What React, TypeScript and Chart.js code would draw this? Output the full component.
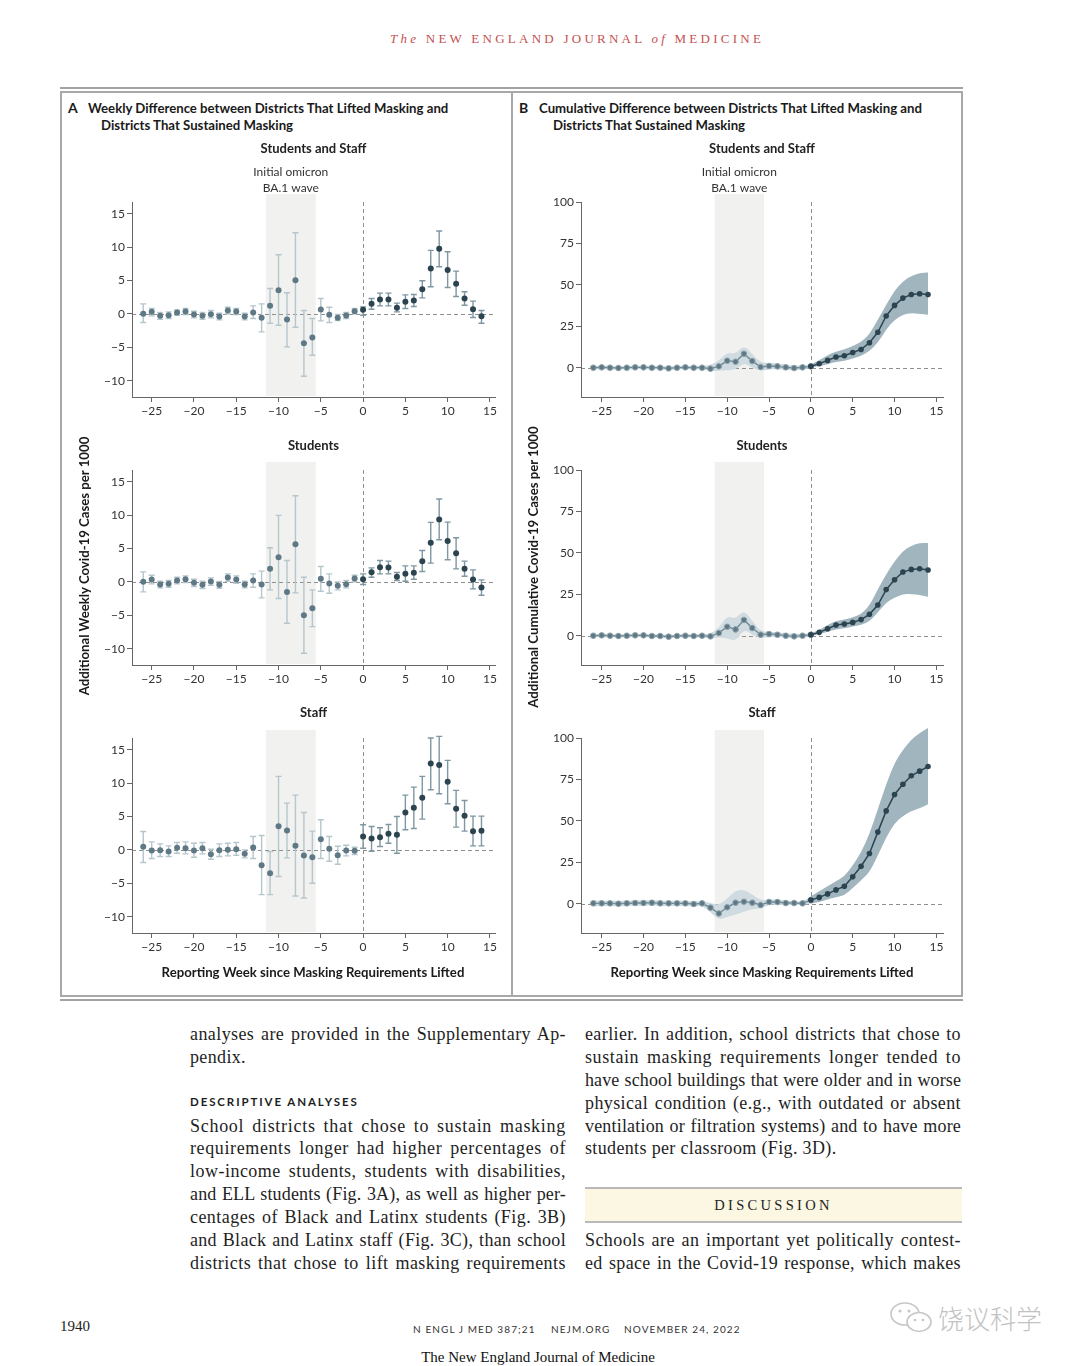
import React, { useEffect, useRef } from "react";
import { Chart, registerables } from "chart.js";

Chart.register(...registerables);

// ---------------- data ----------------
const WEEKS = [-26, -25, -24, -23, -22, -21, -20, -19, -18, -17, -16, -15, -14, -13, -12, -11, -10, -9, -8, -7, -6, -5, -4, -3, -2, -1, 0, 1, 2, 3, 4, 5, 6, 7, 8, 9, 10, 11, 12, 13, 14];
const X_TICKS = [-25, -20, -15, -10, -5, 0, 5, 10, 15];
const WEEKLY_TICKS = [-10, -5, 0, 5, 10, 15];
const CUMUL_TICKS = [0, 25, 50, 75, 100];
const OMICRON_WAVE = [-11.5, -5.6];

// Panel A: weekly difference (point estimate, upper CI, lower CI)
const weeklyAllValues = [0.0, 0.3, -0.3, -0.2, 0.2, 0.35, -0.1, -0.3, -0.05, -0.4, 0.5, 0.35, -0.4, 0.2, -0.6, 1.2, 3.55, -0.85, 5.05, -4.4, -3.55, 0.65, -0.15, -0.6, -0.25, 0.4, 0.6, 1.5, 2.15, 2.15, 0.9, 1.8, 2.0, 3.7, 6.8, 9.75, 6.55, 4.5, 2.3, 0.7, -0.35];
const weeklyAllHi = [1.5, 0.8, 0.2, 0.3, 0.6, 0.8, 0.4, 0.2, 0.5, 0.1, 1.0, 0.8, 0.1, 1.2, 1.5, 3.8, 8.85, 3.15, 12.15, 0.5, -0.7, 2.3, 1.0, -0.1, 0.2, 0.8, 1.05, 2.3, 3.1, 3.1, 1.6, 2.85, 2.9, 4.95, 9.5, 12.4, 9.3, 6.4, 3.3, 1.9, 0.5];
const weeklyAllLo = [-1.3, -0.3, -0.8, -0.7, -0.2, -0.1, -0.6, -0.8, -0.6, -0.9, 0.0, -0.1, -0.9, -0.7, -2.7, -1.4, -1.7, -4.95, -2.0, -9.35, -6.2, -1.05, -1.3, -1.0, -0.7, 0.0, -0.2, 0.7, 1.2, 1.2, 0.3, 0.8, 1.1, 2.4, 4.05, 7.05, 3.95, 2.6, 1.3, -0.55, -1.4];

const weeklyStudentValues = [0, 0.35, -0.4, -0.3, 0.2, 0.4, -0.15, -0.45, 0.05, -0.45, 0.65, 0.35, -0.4, 0.2, -0.4, 1.95, 3.7, -1.5, 5.65, -5.0, -3.95, 0.45, -0.25, -0.6, -0.35, 0.5, 0.4, 1.45, 2.2, 2.15, 0.75, 1.2, 1.35, 3.1, 5.85, 9.35, 6.1, 4.3, 1.95, 0.35, -0.85];
const weeklyStudentHi = [1.5, 1.0, 0.1, 0.2, 0.7, 0.9, 0.4, 0.1, 0.6, 0.05, 1.2, 0.9, 0.1, 1.2, 1.6, 5.1, 9.95, 3.2, 12.9, 0.7, -1.2, 2.3, 1.2, 0.0, 0.2, 1.0, 1.2, 2.1, 3.2, 3.1, 1.4, 2.4, 2.4, 4.7, 8.9, 12.4, 8.95, 6.6, 3.1, 1.8, 0.3];
const weeklyStudentLo = [-1.5, -0.3, -0.9, -0.8, -0.3, -0.1, -0.7, -1.0, -0.5, -0.95, 0.1, -0.2, -0.9, -0.8, -2.4, -1.2, -2.5, -6.2, -1.65, -10.7, -6.7, -1.4, -1.7, -1.2, -0.9, 0.0, -0.4, 0.7, 1.2, 1.2, 0.2, 0.1, 0.4, 1.55, 2.8, 6.3, 3.3, 1.95, 0.85, -1.05, -2.0];

const weeklyStaffValues = [0.45, -0.1, -0.05, -0.25, 0.3, 0.25, -0.1, 0.25, -0.65, -0.05, 0, 0.1, -0.6, 0.35, -2.3, -3.5, 3.55, 2.9, 0.6, -0.85, -1.1, 1.6, 0.15, -0.8, -0.1, -0.15, 2.0, 1.7, 1.9, 2.4, 2.25, 5.6, 6.3, 7.8, 12.95, 12.7, 10.2, 6.15, 5.1, 2.8, 2.85];
const weeklyStaffHi = [2.75, 1.2, 0.9, 0.6, 1.1, 1.2, 1.0, 1.1, 0.1, 0.9, 1.0, 1.1, 0.0, 2.0, 2.15, -0.25, 11.0, 7.0, 8.2, 5.6, 2.8, 4.5, 2.0, 0.55, 0.7, 0.4, 3.75, 3.5, 3.3, 3.8, 5.0, 8.2, 9.4, 11.0, 16.75, 17.0, 13.4, 8.9, 7.4, 5.05, 5.05];
const weeklyStaffLo = [-1.9, -1.3, -1.0, -1.0, -0.5, -0.6, -1.1, -0.6, -1.4, -1.0, -0.9, -0.8, -1.2, -1.3, -6.7, -6.7, -4.0, -1.2, -6.9, -7.2, -5.0, -1.3, -1.7, -2.15, -0.9, -0.7, 0.25, -0.2, 0.5, 1.0, -0.5, 3.0, 3.2, 4.6, 9.0, 8.4, 6.9, 3.4, 2.8, 0.6, 0.6];

// Panel B: cumulative difference (estimate, upper band, lower band)
const cumAllValues = [0, 0.2, 0, -0.2, 0, 0.2, 0.2, 0, 0, -0.4, 0, 0.2, 0, 0, -0.6, 0.8, 4.2, 3.6, 8.4, 4.0, 0.4, 1.0, 0.8, 0.2, -0.2, 0.2, 0.8, 2.4, 4.4, 6.4, 7.2, 9.2, 11.0, 15.0, 21.4, 31.2, 37.6, 42.0, 44.2, 44.6, 44.2];
const cumAllUpper = [1, 1.2, 1, 0.8, 1, 1.2, 1.2, 1, 1, 0.6, 1, 1.2, 1, 1.2, 1.5, 4, 9.5, 8, 13.5, 8, 3, 3, 2.5, 1.8, 1.2, 1.5, 1.8, 4.5, 7.5, 9.8, 11, 13, 15.5, 20, 29, 38, 46.5, 52, 55.5, 57, 57.5];
const cumAllLower = [-1, -0.8, -1, -1.2, -1, -0.8, -0.8, -1, -1, -1.4, -1, -0.8, -1, -1, -2, -2, -1.5, -1.2, 3, 0, -2, -1, -1, -1.2, -1.6, -1.2, 0, 1, 2, 3.5, 4, 5.5, 7, 10, 15, 23, 29, 32, 33, 32.5, 32];

const cumStudentValues = [0, 0.2, 0, -0.2, 0, 0.2, 0.2, -0.2, -0.2, -0.6, -0.2, 0, -0.2, 0, -0.4, 1.6, 5.4, 3.8, 9.5, 4.6, 0.6, 1.0, 0.6, 0, -0.4, 0, 0.6, 2.0, 4.2, 6.4, 7.0, 8.0, 9.7, 12.9, 18.5, 27.8, 33.8, 38.4, 40.0, 40.4, 39.6];
const cumStudentUpper = [1, 1.2, 1, 0.8, 1, 1.2, 1.2, 0.8, 0.8, 0.4, 0.8, 1, 0.8, 1, 1, 4.5, 12, 10, 15.5, 9, 2.5, 2.5, 2, 1.5, 1, 1.2, 1.5, 3.5, 6.5, 8.8, 9.8, 11, 13, 18, 28, 37, 45, 51, 54.5, 56, 56];
const cumStudentLower = [-1, -0.8, -1, -1.2, -1, -0.8, -0.8, -1.2, -1.2, -1.6, -1.2, -1, -1.2, -1, -1.6, -1, -1.5, -3.5, 4, 0.5, -1.5, -0.8, -0.8, -1.2, -1.6, -1.2, 0, 0.8, 2.3, 4, 4.5, 5.5, 6.5, 8.5, 14, 20, 23, 25, 25.2, 24.5, 23.5];

const cumStaffValues = [0.2, 0.2, 0.2, 0, 0.2, 0.4, 0.4, 0.6, 0.2, 0.2, 0.2, 0.2, -0.2, 0.2, -2.4, -5.9, -2.2, 0.6, 1.2, 0.6, -0.8, 1.0, 1.0, 0.4, 0.4, 0.2, 2.2, 3.8, 5.9, 8.3, 10.5, 16.2, 22.6, 30.3, 43.2, 56.0, 65.9, 72.1, 77.2, 80.0, 82.8];
const cumStaffUpper = [2, 1.8, 1.8, 1.6, 1.8, 2, 2, 2.2, 1.8, 1.8, 1.8, 1.8, 1.5, 1.5, 0.5, -1, 3, 8, 8.5, 5.5, 2, 2.5, 2.5, 1.8, 1.5, 1.2, 4.5, 7.5, 10.5, 13.5, 16.5, 23, 31, 42, 57, 72, 85, 93, 99, 103, 106];
const cumStaffLower = [-1.6, -1.4, -1.4, -1.6, -1.4, -1.2, -1.2, -1, -1.4, -1.4, -1.4, -1.4, -1.8, -1.2, -5, -10, -8, -6.5, -5, -3, -3.2, -0.5, -0.5, -1, -0.8, -0.8, 0, 1, 2.5, 4, 5, 9.5, 14, 19, 29, 40, 48.5, 53, 56, 57.5, 60];

// ---------------- styles ----------------
const SANS = 'Lato, "Open Sans", "Noto Sans", sans-serif';
const SERIF = '"Liberation Serif", "Times New Roman", serif';
const PRE_POINT = "#5e7985";
const POST_POINT = "#2c4450";
const PRE_BAR = "#b5c6cd";
const POST_BAR = "#7f97a2";
const PRE_BAND = "#cfdbe0";
const POST_BAND = "#a1b5be";
const PRE_LINE = "#6a8590";
const AXIS = "#666666";

const fmt = (v: number) => (v < 0 ? "\u2212" + Math.abs(v) : String(v));

type Spec = {
  kind: "weekly" | "cum";
  title: string;
  titleGap: number;
  wave: boolean;
  values: number[];
  hi: number[];
  lo: number[];
};

function smoothPath(ctx: CanvasRenderingContext2D, pts: number[][], move: boolean) {
  if (move) ctx.moveTo(pts[0][0], pts[0][1]);
  else ctx.lineTo(pts[0][0], pts[0][1]);
  for (let i = 1; i < pts.length - 1; i++) {
    const mx = (pts[i][0] + pts[i + 1][0]) / 2;
    const my = (pts[i][1] + pts[i + 1][1]) / 2;
    ctx.quadraticCurveTo(pts[i][0], pts[i][1], mx, my);
  }
  const l = pts[pts.length - 1];
  ctx.lineTo(l[0], l[1]);
}

function PanelChart({ spec, left, top, width, yWidth, padRight, xMin, xMax }: { spec: Spec; left: number; top: number; width: number; yWidth: number; padRight: number; xMin: number; xMax: number }) {
  const ref = useRef<HTMLCanvasElement>(null);
  const H = 70 + 195 + 28;
  useEffect(() => {
    const canvas = ref.current as HTMLCanvasElement;
    const weekly = spec.kind === "weekly";

    const decor = {
      id: "decor",
      beforeDraw(chart: any) {
        const { ctx, chartArea: a, scales } = chart;
        const xs = scales.x, ys = scales.y;
        ctx.save();
        const bx0 = xs.getPixelForValue(OMICRON_WAVE[0]);
        const bx1 = xs.getPixelForValue(OMICRON_WAVE[1]);
        ctx.fillStyle = "#f1f1ef";
        ctx.fillRect(bx0, a.top - 8, bx1 - bx0, a.bottom - a.top + 8 - 1);
        ctx.setLineDash([4, 3]);
        ctx.strokeStyle = "#8e8e8e";
        ctx.lineWidth = 1;
        const yz = Math.round(ys.getPixelForValue(0)) + 0.5;
        ctx.beginPath();
        ctx.moveTo(a.left, yz);
        ctx.lineTo(a.right, yz);
        ctx.stroke();
        const xz = Math.round(xs.getPixelForValue(0)) + 0.5;
        ctx.beginPath();
        ctx.moveTo(xz, a.top);
        ctx.lineTo(xz, a.bottom);
        ctx.stroke();
        ctx.restore();
      },
      beforeDatasetsDraw(chart: any) {
        const { ctx, scales } = chart;
        const xs = scales.x, ys = scales.y;
        ctx.save();
        if (weekly) {
          ctx.lineWidth = 1.4;
          WEEKS.forEach((w, i) => {
            const px = xs.getPixelForValue(w);
            const ph = ys.getPixelForValue(spec.hi[i]);
            const pl = ys.getPixelForValue(spec.lo[i]);
            ctx.strokeStyle = w >= 0 ? POST_BAR : PRE_BAR;
            ctx.beginPath();
            ctx.moveTo(px, ph);
            ctx.lineTo(px, pl);
            ctx.moveTo(px - 3, ph);
            ctx.lineTo(px + 3, ph);
            ctx.moveTo(px - 3, pl);
            ctx.lineTo(px + 3, pl);
            ctx.stroke();
          });
        } else {
          const band = (keep: (w: number) => boolean, color: string) => {
            const up: number[][] = [];
            const dn: number[][] = [];
            WEEKS.forEach((w, i) => {
              if (keep(w)) {
                const px = xs.getPixelForValue(w);
                up.push([px, ys.getPixelForValue(spec.hi[i])]);
                dn.push([px, ys.getPixelForValue(spec.lo[i])]);
              }
            });
            ctx.fillStyle = color;
            ctx.beginPath();
            smoothPath(ctx, up, true);
            smoothPath(ctx, dn.reverse(), false);
            ctx.closePath();
            ctx.fill();
          };
          band((w) => w <= 0, PRE_BAND);
          band((w) => w >= 0, POST_BAND);
        }
        ctx.restore();
      },
      afterDraw(chart: any) {
        const { ctx, chartArea: a, scales } = chart;
        const xs = scales.x;
        ctx.save();
        ctx.fillStyle = "#222";
        ctx.textAlign = "center";
        ctx.textBaseline = "middle";
        ctx.font = "bold 13px " + SANS;
        ctx.fillText(spec.title, (a.left + a.right) / 2, a.top - spec.titleGap);
        if (spec.wave) {
          const cx = (xs.getPixelForValue(OMICRON_WAVE[0]) + xs.getPixelForValue(OMICRON_WAVE[1])) / 2;
          ctx.font = "12px " + SANS;
          ctx.fillStyle = "#333";
          ctx.fillText("Initial omicron", cx, a.top - 30);
          ctx.fillText("BA.1 wave", cx, a.top - 14);
        }
        ctx.restore();
      },
    };

    const pre = WEEKS.map((w, i) => ({ x: w, y: spec.values[i] })).filter((p) => p.x <= 0);
    const post = WEEKS.map((w, i) => ({ x: w, y: spec.values[i] })).filter((p) => p.x >= 0);

    const datasets: any[] = weekly
      ? [
          {
            data: WEEKS.map((w, i) => ({ x: w, y: spec.values[i] })),
            showLine: false,
            pointRadius: 3,
            pointBorderWidth: 0,
            pointBackgroundColor: WEEKS.map((w) => (w >= 0 ? POST_POINT : PRE_POINT)),
            pointBorderColor: WEEKS.map((w) => (w >= 0 ? POST_POINT : PRE_POINT)),
          },
        ]
      : [
          {
            data: post,
            borderColor: POST_POINT,
            borderWidth: 1.5,
            pointRadius: 2.8,
            pointBorderWidth: 0,
            pointBackgroundColor: POST_POINT,
            tension: 0,
            fill: false,
          },
          {
            data: pre,
            borderColor: PRE_LINE,
            borderWidth: 1.3,
            pointRadius: 2.8,
            pointBorderWidth: 1,
            pointBorderColor: "#8fa4ad",
            pointBackgroundColor: PRE_POINT,
            tension: 0,
            fill: false,
          },
        ];

    const yTicks = weekly ? WEEKLY_TICKS : CUMUL_TICKS;
    const tickFont = { family: SANS, size: 12 };
    const chart = new Chart(canvas, {
      type: "line",
      data: { datasets },
      plugins: [decor],
      options: {
        animation: false,
        responsive: false,
        devicePixelRatio: 1,
        events: [],
        layout: { padding: { top: 70, right: padRight, left: 0, bottom: 0 } },
        plugins: { legend: { display: false }, tooltip: { enabled: false }, title: { display: false } },
        scales: {
          x: {
            type: "linear",
            bounds: "data",
            min: xMin,
            max: xMax,
            afterBuildTicks: (s: any) => {
              s.ticks = X_TICKS.map((v) => ({ value: v }));
            },
            afterFit: (s: any) => {
              s.height = 28;
            },
            grid: { drawOnChartArea: false, drawTicks: true, tickLength: 5, color: AXIS, lineWidth: 1 },
            border: { color: AXIS, width: 1 },
            ticks: { font: tickFont, color: "#333", padding: 2, maxRotation: 0, autoSkip: false, callback: (v: any) => fmt(Number(v)) },
          },
          y: {
            type: "linear",
            bounds: "data",
            min: weekly ? -12.45 : -17.7,
            max: weekly ? 16.75 : 100,
            afterBuildTicks: (s: any) => {
              s.ticks = yTicks.map((v) => ({ value: v }));
            },
            afterFit: (s: any) => {
              s.width = yWidth;
            },
            grid: { drawOnChartArea: false, drawTicks: true, tickLength: 5, color: AXIS, lineWidth: 1 },
            border: { color: AXIS, width: 1 },
            ticks: { font: tickFont, color: "#333", padding: 2, autoSkip: false, callback: (v: any) => fmt(Number(v)) },
          },
        },
      } as any,
    });
    return () => chart.destroy();
  }, []);
  return <canvas ref={ref} width={width} height={H} style={{ position: "absolute", left, top, width, height: H }} />;
}

// ---------------- page text ----------------
const LEFT_COL = [
  { y: 1034, t: "analyses are provided in the Supplementary Ap-", j: true },
  { y: 1057, t: "pendix.", j: false },
  { y: 1126, t: "School districts that chose to sustain masking", j: true },
  { y: 1148, t: "requirements longer had higher percentages of", j: true },
  { y: 1171, t: "low-income students, students with disabilities,", j: true },
  { y: 1194, t: "and ELL students (Fig. 3A), as well as higher per-", j: true },
  { y: 1217, t: "centages of Black and Latinx students (Fig. 3B)", j: true },
  { y: 1240, t: "and Black and Latinx staff (Fig. 3C), than school", j: true },
  { y: 1263, t: "districts that chose to lift masking requirements", j: true },
];
const RIGHT_COL = [
  { y: 1034, t: "earlier. In addition, school districts that chose to", j: true },
  { y: 1057, t: "sustain masking requirements longer tended to", j: true },
  { y: 1080, t: "have school buildings that were older and in worse", j: true },
  { y: 1103, t: "physical condition (e.g., with outdated or absent", j: true },
  { y: 1126, t: "ventilation or filtration systems) and to have more", j: true },
  { y: 1148, t: "students per classroom (Fig. 3D).", j: false },
  { y: 1240, t: "Schools are an important yet politically contest-", j: true },
  { y: 1263, t: "ed space in the Covid-19 response, which makes", j: true },
];

const BODY_SIZE = 18;
let measureCtx: CanvasRenderingContext2D | null = null;
function naturalWidth(t: string) {
  if (!measureCtx) measureCtx = document.createElement("canvas").getContext("2d");
  if (!measureCtx) return 0;
  measureCtx.font = BODY_SIZE + "px " + SERIF;
  return measureCtx.measureText(t).width;
}

function TextLine({ x, y, w, t, j }: { x: number; y: number; w: number; t: string; j: boolean }) {
  let ls = 0;
  const nat = naturalWidth(t);
  const box = w - 1;
  if (j && nat > 0) {
    const extra = box - nat - 2;
    ls = extra < 0 ? extra / t.length - 0.05 : (extra * 0.7) / t.length;
  } else if (!j) {
    ls = 0.35;
  }
  return (
    <div
      style={{
        position: "absolute",
        left: x,
        top: y - 12,
        width: box,
        height: 24,
        lineHeight: "24px",
        fontFamily: SERIF,
        fontSize: BODY_SIZE,
        letterSpacing: ls,
        color: "#1e1e1e",
        textAlign: j ? "justify" : "left",
        textAlignLast: j ? "justify" : "left",
      } as any}
    >
      {t}
    </div>
  );
}

function Label({ x, y, children, style }: { x: number; y: number; children: any; style?: any }) {
  return (
    <div style={{ position: "absolute", left: x, top: y - 10, height: 20, lineHeight: "20px", whiteSpace: "nowrap", ...style }}>{children}</div>
  );
}

const A_SPECS: Spec[] = [
  { kind: "weekly", title: "Students and Staff", titleGap: 53, wave: true, values: weeklyAllValues, hi: weeklyAllHi, lo: weeklyAllLo },
  { kind: "weekly", title: "Students", titleGap: 24, wave: false, values: weeklyStudentValues, hi: weeklyStudentHi, lo: weeklyStudentLo },
  { kind: "weekly", title: "Staff", titleGap: 25, wave: false, values: weeklyStaffValues, hi: weeklyStaffHi, lo: weeklyStaffLo },
];
const B_SPECS: Spec[] = [
  { kind: "cum", title: "Students and Staff", titleGap: 53, wave: true, values: cumAllValues, hi: cumAllUpper, lo: cumAllLower },
  { kind: "cum", title: "Students", titleGap: 24, wave: false, values: cumStudentValues, hi: cumStudentUpper, lo: cumStudentLower },
  { kind: "cum", title: "Staff", titleGap: 25, wave: false, values: cumStaffValues, hi: cumStaffUpper, lo: cumStaffLower },
];
const ROW_TOPS = [202, 470, 738];

export default function App() {
  const titleStyle = { fontFamily: SANS, fontWeight: 700, fontSize: 13.2, color: "#1a1a1a" };
  return (
    <div style={{ position: "absolute", left: 0, top: 0, width: 1080, height: 1366, background: "#fff", overflow: "hidden" }}>
      {/* header */}
      <div style={{ position: "absolute", left: 390, top: 30, height: 18, lineHeight: "18px", whiteSpace: "nowrap", fontFamily: SERIF, fontSize: 13, letterSpacing: 3.25, color: "#c4514f" }}>
        <i>The</i> NEW ENGLAND JOURNAL <i>of</i> MEDICINE
      </div>

      {/* figure frame */}
      <div style={{ position: "absolute", left: 60, top: 87, width: 903, height: 2, background: "#a3a3a3" }} />
      <div style={{ position: "absolute", left: 60, top: 91, width: 903, height: 906, border: "2px solid #a8a8a8", boxSizing: "border-box" }} />
      <div style={{ position: "absolute", left: 511, top: 91, width: 2, height: 906, background: "#a8a8a8" }} />
      <div style={{ position: "absolute", left: 60, top: 999, width: 903, height: 2, background: "#a3a3a3" }} />

      {/* panel titles */}
      <Label x={68} y={108} style={{ ...titleStyle, fontSize: 14 }}>A</Label>
      <Label x={88} y={108} style={titleStyle}>Weekly Difference between Districts That Lifted Masking and</Label>
      <Label x={101} y={125} style={titleStyle}>Districts That Sustained Masking</Label>
      <Label x={519} y={108} style={{ ...titleStyle, fontSize: 14 }}>B</Label>
      <Label x={539} y={108} style={titleStyle}>Cumulative Difference between Districts That Lifted Masking and</Label>
      <Label x={553} y={125} style={titleStyle}>Districts That Sustained Masking</Label>

      {/* charts */}
      {A_SPECS.map((s, i) => (
        <PanelChart key={"a" + i} spec={s} left={62} top={ROW_TOPS[i] - 70} width={448} yWidth={70} padRight={15} xMin={-27.33} xMax={15.6} />
      ))}
      {B_SPECS.map((s, i) => (
        <PanelChart key={"b" + i} spec={s} left={514} top={ROW_TOPS[i] - 70} width={447} yWidth={67} padRight={18} xMin={-27.47} xMax={15.79} />
      ))}

      {/* axis titles */}
      <div style={{ position: "absolute", left: 84 - 160, top: 566 - 10, width: 320, height: 20, lineHeight: "20px", textAlign: "center", transform: "rotate(-90deg)", ...titleStyle }}>
        Additional Weekly Covid-19 Cases per 1000
      </div>
      <div style={{ position: "absolute", left: 533 - 160, top: 567 - 10, width: 320, height: 20, lineHeight: "20px", textAlign: "center", transform: "rotate(-90deg)", ...titleStyle }}>
        Additional Cumulative Covid-19 Cases per 1000
      </div>
      <div style={{ position: "absolute", left: 313 - 200, top: 972 - 10, width: 400, height: 20, lineHeight: "20px", textAlign: "center", ...titleStyle }}>
        Reporting Week since Masking Requirements Lifted
      </div>
      <div style={{ position: "absolute", left: 762 - 200, top: 972 - 10, width: 400, height: 20, lineHeight: "20px", textAlign: "center", ...titleStyle }}>
        Reporting Week since Masking Requirements Lifted
      </div>

      {/* body text */}
      {LEFT_COL.map((l, i) => (
        <TextLine key={"l" + i} x={190} y={l.y} w={377} t={l.t} j={l.j} />
      ))}
      {RIGHT_COL.map((l, i) => (
        <TextLine key={"r" + i} x={585} y={l.y} w={377} t={l.t} j={l.j} />
      ))}
      <Label x={190} y={1102} style={{ fontFamily: SANS, fontWeight: 700, fontSize: 11.5, letterSpacing: 1.9, color: "#1e1e1e" }}>
        DESCRIPTIVE ANALYSES
      </Label>
      <div style={{ position: "absolute", left: 585, top: 1187, width: 377, height: 36, background: "#fbf7e2", borderTop: "2px solid #b9b9b9", borderBottom: "2px solid #b9b9b9", boxSizing: "border-box", textAlign: "center", lineHeight: "32px", fontFamily: SERIF, fontSize: 14.5, letterSpacing: 3.3, color: "#222" }}>
        DISCUSSION
      </div>

      {/* footer */}
      <Label x={60} y={1326} style={{ fontFamily: SERIF, fontSize: 15, color: "#222" }}>1940</Label>
      <Label x={413} y={1329} style={{ fontFamily: SANS, fontSize: 10, letterSpacing: 1.1, color: "#333" }}>N ENGL J MED 387;21</Label>
      <Label x={551} y={1329} style={{ fontFamily: SANS, fontSize: 10, letterSpacing: 1.1, color: "#333" }}>NEJM.ORG</Label>
      <Label x={624} y={1329} style={{ fontFamily: SANS, fontSize: 10, letterSpacing: 1.1, color: "#333" }}>NOVEMBER 24, 2022</Label>
      <div style={{ position: "absolute", left: 338, top: 1347, width: 400, height: 20, lineHeight: "20px", textAlign: "center", fontFamily: SERIF, fontSize: 15, color: "#111" }}>
        The New England Journal of Medicine
      </div>

      {/* watermark */}
      <svg style={{ position: "absolute", left: 888, top: 1300 }} width={50} height={36} viewBox="0 0 50 36">
        <ellipse cx={17} cy={14} rx={14} ry={11} fill="none" stroke="#c6c6c6" strokeWidth={1.6} />
        <ellipse cx={31} cy={22} rx={12} ry={9.5} fill="#fff" stroke="#c6c6c6" strokeWidth={1.6} />
        <circle cx={12} cy={11} r={1.6} fill="#c6c6c6" />
        <circle cx={21} cy={11} r={1.6} fill="#c6c6c6" />
        <circle cx={27} cy={20} r={1.3} fill="#c6c6c6" />
        <circle cx={35} cy={20} r={1.3} fill="#c6c6c6" />
      </svg>
      <div style={{ position: "absolute", left: 938, top: 1300, height: 36, lineHeight: "36px", whiteSpace: "nowrap", fontFamily: '"Noto Sans CJK SC", sans-serif', fontWeight: 300, fontSize: 26, color: "#c2c2c2" }}>
        饶议科学
      </div>
    </div>
  );
}
